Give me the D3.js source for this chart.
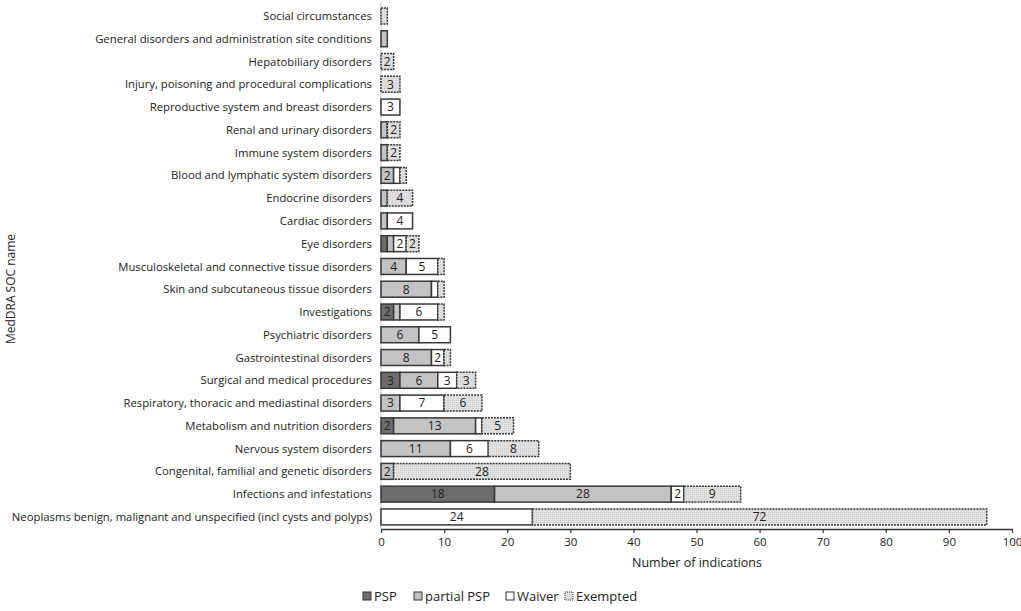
<!DOCTYPE html>
<html>
<head>
<meta charset="utf-8">
<script src="https://cdn.jsdelivr.net/npm/d3@7"></script>
<style>
  body { margin: 0; background: #fff; }
  text { font-family: "Open Sans", sans-serif; fill: #222; }
</style>
</head>
<body>
<div id="chart"></div>
<script>
const width = 1021;
const height = 611;

// data, top row first
const categories = [
  'Social circumstances',
  'General disorders and administration site conditions',
  'Hepatobiliary disorders',
  'Injury, poisoning and procedural complications',
  'Reproductive system and breast disorders',
  'Renal and urinary disorders',
  'Immune system disorders',
  'Blood and lymphatic system disorders',
  'Endocrine disorders',
  'Cardiac disorders',
  'Eye disorders',
  'Musculoskeletal and connective tissue disorders',
  'Skin and subcutaneous tissue disorders',
  'Investigations',
  'Psychiatric disorders',
  'Gastrointestinal disorders',
  'Surgical and medical procedures',
  'Respiratory, thoracic and mediastinal disorders',
  'Metabolism and nutrition disorders',
  'Nervous system disorders',
  'Congenital, familial and genetic disorders',
  'Infections and infestations',
  'Neoplasms benign, malignant and unspecified (incl cysts and polyps)'
];
const psp       = [0, 0, 0, 0, 0, 0, 0, 0, 0, 0, 1, 0, 0, 2, 0, 0, 3, 0, 2, 0, 0, 18, 0];
const partial   = [0, 1, 0, 0, 0, 1, 1, 2, 1, 1, 1, 4, 8, 1, 6, 8, 6, 3, 13, 11, 2, 28, 0];
const waiver    = [0, 0, 0, 0, 3, 0, 0, 1, 0, 4, 2, 5, 1, 6, 5, 2, 3, 7, 1, 6, 0, 2, 24];
const exempted  = [1, 0, 2, 3, 0, 2, 2, 1, 4, 0, 2, 1, 1, 1, 0, 1, 3, 6, 5, 8, 28, 9, 72];
const seriesNames = ['PSP', 'partial PSP', 'Waiver', 'Exempted'];
const xTicks = [0, 10, 20, 30, 40, 50, 60, 70, 80, 90, 100];

const fills = { 'PSP': '#6d6d6d', 'partial PSP': '#c3c3c3', 'Waiver': '#ffffff', 'Exempted': 'url(#dots)' };

const rows = categories.map((c, i) => ({
  name: c,
  'PSP': psp[i],
  'partial PSP': partial[i],
  'Waiver': waiver[i],
  'Exempted': exempted[i]
}));

const svg = d3.select('#chart').append('svg')
  .attr('width', width).attr('height', height);

// dotted light fill for Exempted
const pat = svg.append('defs').append('pattern')
  .attr('id', 'dots').attr('width', 2).attr('height', 2)
  .attr('patternUnits', 'userSpaceOnUse');
pat.append('rect').attr('width', 2).attr('height', 2).attr('fill', '#e2e2e2');
pat.append('rect').attr('width', 1).attr('height', 1).attr('fill', '#cccccc');

const x = d3.scaleLinear().domain([0, 100]).range([381, 1012]);
const y = d3.scaleBand().domain(categories).range([4.6, 528.3]).paddingInner(0.3).paddingOuter(0.15);

// faint vertical axis line
svg.append('line')
  .attr('x1', x(0)).attr('x2', x(0))
  .attr('y1', 2).attr('y2', 529)
  .attr('stroke', '#d8d8d8').attr('stroke-width', 1.5);

const stack = d3.stack().keys(seriesNames)(rows);

const layer = svg.selectAll('g.layer').data(stack).join('g')
  .attr('class', 'layer');

layer.selectAll('rect')
  .data(d => d.map(s => ({ key: d.key, s: s })).filter(o => o.s[1] > o.s[0]))
  .join('rect')
  .attr('x', o => x(o.s[0]))
  .attr('y', o => y(o.s.data.name))
  .attr('width', o => x(o.s[1]) - x(o.s[0]))
  .attr('height', y.bandwidth())
  .attr('fill', o => fills[o.key])
  .attr('stroke', '#383838')
  .attr('stroke-width', 1.5)
  .attr('stroke-dasharray', o => o.key === 'Exempted' ? '2,1' : null);

layer.selectAll('text')
  .data(d => d.map(s => ({ key: d.key, s: s })).filter(o => o.s[1] - o.s[0] >= 2))
  .join('text')
  .attr('x', o => (x(o.s[0]) + x(o.s[1])) / 2)
  .attr('y', o => y(o.s.data.name) + y.bandwidth() / 2)
  .attr('dy', '0.36em')
  .attr('text-anchor', 'middle')
  .attr('font-size', '12px')
  .text(o => o.s[1] - o.s[0]);

// category labels
svg.append('g').selectAll('text').data(categories).join('text')
  .attr('x', 372)
  .attr('y', d => y(d) + y.bandwidth() / 2)
  .attr('dy', '0.36em')
  .attr('text-anchor', 'end')
  .attr('font-size', '11.3px')
  .text(d => d);

// x axis
const xAxis = d3.axisBottom(x).tickValues(xTicks).tickSize(4).tickSizeOuter(0);
const gx = svg.append('g').attr('transform', 'translate(0,529)').call(xAxis);
gx.select('.domain').attr('stroke', '#333').attr('stroke-width', 1.5);
gx.selectAll('.tick line').attr('stroke', '#333').attr('stroke-width', 1.2);
gx.selectAll('.tick text')
  .attr('font-family', '"Open Sans", sans-serif')
  .attr('font-size', '11.5px').attr('fill', '#222').attr('dy', '0.9em');

svg.append('text')
  .attr('x', 697).attr('y', 567)
  .attr('text-anchor', 'middle')
  .attr('font-size', '12.5px')
  .text('Number of indications');

svg.append('text')
  .attr('transform', 'translate(15,289) rotate(-90)')
  .attr('text-anchor', 'middle')
  .attr('font-size', '12px')
  .text('MedDRA SOC name');

// legend
const legendX = [363, 414, 506, 565];
const lg = svg.append('g').selectAll('g').data(seriesNames).join('g')
  .attr('transform', (d, i) => `translate(${legendX[i]},596)`);
lg.append('rect')
  .attr('x', 0).attr('y', -4).attr('width', 8).attr('height', 8)
  .attr('fill', d => fills[d])
  .attr('stroke', '#333').attr('stroke-width', 1)
  .attr('stroke-dasharray', d => d === 'Exempted' ? '1,1' : null);
lg.append('text')
  .attr('x', 11).attr('y', 0).attr('dy', '0.36em')
  .attr('font-size', '13px')
  .text(d => d);
</script>
</body>
</html>
